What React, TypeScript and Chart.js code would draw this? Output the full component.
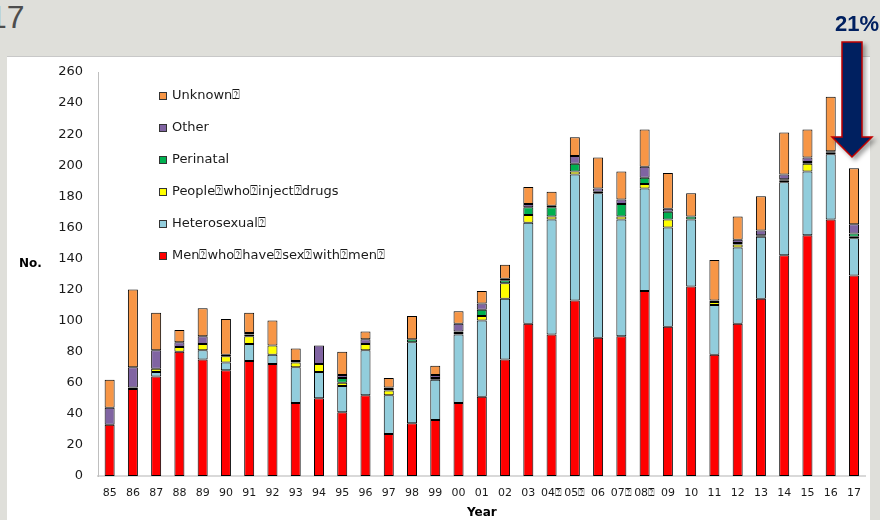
import React, { useEffect, useRef } from "react";
import { Chart, registerables } from "chart.js";

Chart.register(...registerables);

const years = ["85","86","87","88","89","90","91","92","93","94","95","96","97","98","99","00","01","02","03","04\u2370","05\u2370","06","07\u2370","08\u2370","09","10","11","12","13","14","15","16","17"];

const msm = [33,56,64,80,75,68,74,72,47,50,41,52,27,34,36,47,51,75,98,91,113,89,90,119,96,122,78,98,114,142,155,165,129];
const heterosexual = [0,1,3,0,6,5,11,6,23,17,17,29,25,52,26,44,49,39,65,74,81,93,75,66,64,43,32,49,40,47,41,42,24];
const pwid = [0,0,2,3,4,4,5,6,3,5,2,4,3,0,0,1,3,10,5,2,2,0,2,3,5,0,2,2,0,1,5,1,1];
const perinatal = [0,0,0,0,0,0,1,0,0,0,3,0,1,2,1,1,4,2,5,6,5,1,8,4,5,2,0,1,1,1,1,1,2];
const other = [11,13,12,3,5,1,1,0,1,12,2,3,1,0,2,5,4,1,2,1,5,2,3,7,2,0,1,2,3,3,3,0,6];
const unknown = [18,50,24,8,18,23,13,16,8,0,15,5,6,15,6,8,8,9,11,9,12,20,18,24,23,15,26,15,22,27,18,35,36];

const seriesLabels = [
  "Men\u2370who\u2370have\u2370sex\u2370with\u2370men\u2370",
  "Heterosexual\u2370",
  "People\u2370who\u2370inject\u2370drugs",
  "Perinatal",
  "Other",
  "Unknown\u2370",
];
const seriesColors = ["#FF0000", "#92CDDC", "#FFFF00", "#00B050", "#8064A2", "#F79646"];

const FONT = "'DejaVu Sans', sans-serif";

const legendPlugin = {
  id: "customLegend",
  afterDraw(chart: any) {
    const ctx = chart.ctx;
    const ds = chart.data.datasets;
    ctx.save();
    ctx.font = `13px ${FONT}`;
    ctx.textBaseline = "middle";
    ctx.textAlign = "left";
    const n = ds.length;
    for (let i = 0; i < n; i++) {
      const d = ds[n - 1 - i];
      const y = 96 + i * 32;
      ctx.fillStyle = d.backgroundColor;
      ctx.fillRect(159, y - 4, 8, 8);
      ctx.strokeStyle = "#333";
      ctx.lineWidth = 1;
      ctx.strokeRect(159.5, y - 3.5, 7, 7);
      ctx.fillStyle = "#1a1a1a";
      ctx.fillText(d.label, 172, y);
    }
    ctx.font = `bold 12px ${FONT}`;
    ctx.fillStyle = "#000";
    ctx.fillText("No.", 19, 264);
    ctx.restore();
  },
};

export default function App() {
  const ref = useRef<HTMLCanvasElement>(null);
  useEffect(() => {
    const series = [msm, heterosexual, pwid, perinatal, other, unknown];
    const chart = new Chart(ref.current as HTMLCanvasElement, {
      type: "bar",
      data: {
        labels: years,
        datasets: series.map((data, i) => ({
          label: seriesLabels[i],
          data,
          backgroundColor: seriesColors[i],
          borderColor: "#000",
          borderWidth: 1,
          borderSkipped: false,
          barPercentage: 0.43,
          categoryPercentage: 1,
        })),
      },
      options: {
        responsive: false,
        animation: false,
        layout: { padding: { top: 72, right: 14.4, bottom: 0, left: 0 } },
        plugins: { legend: { display: false }, tooltip: { enabled: false } },
        scales: {
          x: {
            stacked: true,
            grid: { display: false, drawTicks: false },
            border: { display: true, color: "#D9D9D9", width: 2 },
            ticks: { font: { family: FONT, size: 11 }, color: "#1a1a1a", padding: 11, autoSkip: false, maxRotation: 0 },
            title: { display: true, text: "Year", font: { family: FONT, size: 12, weight: "bold" }, color: "#000", padding: { top: 0, bottom: 0 } },
            afterFit: (s: any) => { s.height = 44; },
          },
          y: {
            stacked: true,
            min: 0,
            max: 260,
            ticks: { stepSize: 20, font: { family: FONT, size: 13 }, color: "#1a1a1a", padding: 15 },
            grid: { display: false, drawTicks: false },
            border: { display: true, color: "#BFBFBF", width: 1 },
            afterFit: (s: any) => { s.width = 98; },
          },
        },
      },
      plugins: [legendPlugin],
    } as any);
    return () => chart.destroy();
  }, []);

  return (
    <div style={{ position: "fixed", left: 0, top: 0, width: 880, height: 520, background: "#DFDFDA", overflow: "hidden" }}>
      <div style={{ position: "absolute", left: -11, top: 1, fontFamily: "'Liberation Sans', sans-serif", fontSize: 32, lineHeight: "32px", color: "#4D4D4D" }}>17</div>
      <div style={{ position: "absolute", left: 7, top: 56, width: 863, height: 470, background: "#FFFFFF", borderTop: "1px solid #C8C8C8" }} />
      <canvas ref={ref} width={880} height={520} style={{ position: "absolute", left: 0, top: 0 }} />
      <div style={{ position: "absolute", left: 835, top: 13, fontFamily: "'Liberation Sans', sans-serif", fontWeight: "bold", fontSize: 22, lineHeight: "22px", color: "#002060" }}>21%</div>
      <svg width={880} height={520} style={{ position: "absolute", left: 0, top: 0, pointerEvents: "none", filter: "drop-shadow(3px 3px 2px rgba(0,0,0,0.35))" }}>
        <polygon points="842,42 862,42 862,137 872,137 852,157 832,137 842,137" fill="#002060" stroke="#C00000" strokeWidth={1.5} strokeLinejoin="miter" />
      </svg>
    </div>
  );
}
